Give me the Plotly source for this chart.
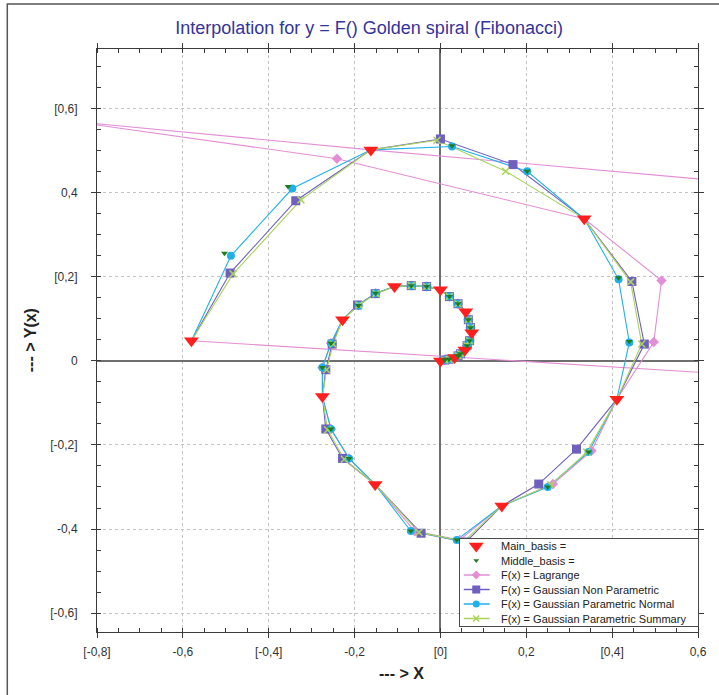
import plotly.graph_objects as go

# ---------------- data ----------------
main_x = [0.0, 0.033, 0.057, 0.073, 0.059, 0.0, -0.107, -0.228, -0.275, -0.152, 0.143, 0.411, 0.335, -0.162, -0.580]
main_y = [0.0, 0.008, 0.026, 0.067, 0.117, 0.169, 0.177, 0.098, -0.085, -0.294, -0.345, -0.091, 0.338, 0.502, 0.048]

middle_x = [0.010, 0.020, 0.041, 0.047, 0.062, 0.068, 0.070, 0.065, 0.041, 0.021, -0.032, -0.068, -0.151, -0.191,
            -0.255, -0.275, -0.255, -0.213, -0.069, 0.038, 0.250, 0.345, 0.440, 0.415, 0.202, 0.027, -0.355, -0.503]
middle_y = [0.002, 0.004, 0.012, 0.017, 0.036, 0.048, 0.079, 0.098, 0.136, 0.153, 0.177, 0.179, 0.161, 0.132,
            0.042, -0.016, -0.162, -0.232, -0.405, -0.426, -0.300, -0.217, 0.046, 0.198, 0.451, 0.512, 0.415, 0.256]

lagrange_x = [0.010, 0.020, 0.041, 0.047, 0.062, 0.068, 0.070, 0.065, 0.041, 0.021, -0.032, -0.068, -0.151, -0.191,
              -0.255, -0.275, -0.255, -0.213, -0.060, 0.045, 0.262, 0.352, 0.497, 0.515, -0.241, -0.869, 0.900, 0.900]
lagrange_y = [0.002, 0.004, 0.012, 0.017, 0.036, 0.048, 0.079, 0.098, 0.136, 0.153, 0.177, 0.179, 0.161, 0.132,
              0.042, -0.016, -0.162, -0.232, -0.405, -0.426, -0.293, -0.214, 0.045, 0.191, 0.481, 0.571, 0.406, -0.046]

gnp_x = [0.010, 0.020, 0.041, 0.047, 0.062, 0.068, 0.070, 0.065, 0.041, 0.021, -0.032, -0.068, -0.152, -0.193,
         -0.252, -0.267, -0.267, -0.228, -0.045, 0.059, 0.229, 0.317, 0.475, 0.446, 0.169, 0.000, -0.337, -0.490]
gnp_y = [0.002, 0.004, 0.012, 0.017, 0.036, 0.048, 0.079, 0.098, 0.136, 0.153, 0.177, 0.179, 0.160, 0.133,
         0.040, -0.021, -0.162, -0.232, -0.410, -0.431, -0.293, -0.210, 0.040, 0.189, 0.467, 0.528, 0.381, 0.209]

gpn_x = [0.010, 0.020, 0.041, 0.047, 0.062, 0.068, 0.070, 0.065, 0.041, 0.021, -0.032, -0.068, -0.151, -0.191,
         -0.255, -0.275, -0.255, -0.213, -0.069, 0.038, 0.250, 0.345, 0.440, 0.415, 0.202, 0.027, -0.345, -0.488]
gpn_y = [0.002, 0.004, 0.012, 0.017, 0.036, 0.048, 0.079, 0.098, 0.136, 0.153, 0.177, 0.179, 0.161, 0.132,
         0.042, -0.016, -0.162, -0.232, -0.405, -0.426, -0.300, -0.217, 0.044, 0.194, 0.451, 0.510, 0.410, 0.250]

gps_x = [0.010, 0.020, 0.041, 0.047, 0.062, 0.068, 0.070, 0.065, 0.041, 0.021, -0.032, -0.068, -0.150, -0.190,
         -0.250, -0.265, -0.263, -0.224, -0.050, 0.055, 0.257, 0.341, 0.469, 0.443, 0.152, -0.008, -0.325, -0.483]
gps_y = [0.002, 0.004, 0.012, 0.017, 0.036, 0.048, 0.079, 0.098, 0.136, 0.153, 0.177, 0.179, 0.160, 0.133,
         0.040, -0.021, -0.164, -0.234, -0.408, -0.429, -0.295, -0.217, 0.040, 0.188, 0.451, 0.525, 0.383, 0.207]

x_tickvals = [-0.8, -0.6, -0.4, -0.2, 0.0, 0.2, 0.4, 0.6]
x_ticktext = ["[-0,8]", "-0,6", "[-0,4]", "-0,2", "[0]", "0,2", "[0,4]", "0,6"]
y_tickvals = [-0.6, -0.4, -0.2, 0.0, 0.2, 0.4, 0.6]
y_ticktext = ["[-0,6]", "-0,4", "[-0,2]", "0", "[0,2]", "0,4", "[0,6]"]

title_text = "Interpolation for y = F() Golden spiral (Fibonacci)"
legend_names = ["Main_basis =", "Middle_basis =", "F(x) = Lagrange", "F(x) = Gaussian Non Parametric",
                "F(x) = Gaussian Parametric Normal", "F(x) = Gaussian Parametric Summary"]
FONT = "Liberation Sans, Arial, sans-serif"

# ---------------- styles ----------------
MAIN_STYLE = dict(color="#ff1f1f", symbol="triangle-down", size=13)
MID_STYLE = dict(color="#1e7d1e", symbol="triangle-down", size=6)
series = [
    (lagrange_x, lagrange_y, "#e38fd6", "diamond", 8),
    (gnp_x, gnp_y, "#6f5fbf", "square", 9),
    (gpn_x, gpn_y, "#21b1e8", "circle", 8),
    (gps_x, gps_y, "#a9d45c", "x-thin", 7),
]


def path(ix, iy):
    """Main point, two interpolated points, next main point, ..."""
    xs, ys = [], []
    for k in range(len(main_x)):
        xs.append(main_x[k]); ys.append(main_y[k])
        if k < len(main_x) - 1:
            xs += ix[2 * k:2 * k + 2]; ys += iy[2 * k:2 * k + 2]
    return xs, ys


def mk(col, sym, sz):
    m = dict(color=col, symbol=sym, size=sz)
    if sym == "x-thin":
        m["line"] = dict(color=col, width=1.5)
    return m


fig = go.Figure()

for ix, iy, col, sym, sz in series:
    px, py = path(ix, iy)
    fig.add_trace(go.Scatter(x=px, y=py, mode="lines", line=dict(color=col, width=1.1), hoverinfo="skip"))
for ix, iy, col, sym, sz in series:
    fig.add_trace(go.Scatter(x=ix, y=iy, mode="markers", marker=mk(col, sym, sz)))

fig.add_trace(go.Scatter(x=main_x, y=main_y, mode="markers", marker=MAIN_STYLE))
fig.add_trace(go.Scatter(x=middle_x, y=middle_y, mode="markers", marker=MID_STYLE))

# ---------------- custom legend (own small subplot, pixel units inside the box) ----------------
LEG_W, LEG_H = 239, 87
row_h = 14.5
rows = [7 + i * row_h for i in range(len(legend_names))]
sym_x, line_x0, line_x1, text_x = 16.5, 4, 30, 39
leg_marks = [MAIN_STYLE, dict(MID_STYLE, size=5)] + [mk(c, s, max(sz - 1, 6)) for _, _, c, s, sz in series]
for i, m in enumerate(leg_marks):
    r = rows[i]
    if i >= 2:
        fig.add_trace(go.Scatter(x=[line_x0, line_x1], y=[r, r], mode="lines", xaxis="x2", yaxis="y2",
                                 line=dict(color=m["color"], width=1.5), hoverinfo="skip"))
    fig.add_trace(go.Scatter(x=[sym_x], y=[r], mode="markers", xaxis="x2", yaxis="y2", marker=m,
                             hoverinfo="skip"))

annotations = [
    dict(text="<b>--- > X</b>", xref="paper", yref="paper", x=(403 - 97) / 603, y=(632 - 673) / 583,
         xanchor="center", yanchor="middle", showarrow=False,
         font=dict(family=FONT, size=16, color="#222222")),
    dict(text="<b>--- > Y(x)</b>", xref="paper", yref="paper", x=(30 - 97) / 603, y=(632 - 340) / 583,
         xanchor="center", yanchor="middle", showarrow=False, textangle=-90,
         font=dict(family=FONT, size=16, color="#222222")),
]
for i, name in enumerate(legend_names):
    annotations.append(dict(text=name, xref="x2", yref="y2", x=text_x, y=rows[i], xanchor="left",
                            yanchor="middle", showarrow=False,
                            font=dict(family=FONT, size=11, color="#222222")))

axis_common = dict(
    showline=True, linecolor="#3a3a3a", linewidth=1, mirror="ticks",
    ticks="outside", ticklen=5, tickcolor="#3a3a3a", tickwidth=1,
    showgrid=True, gridcolor="#c4c4c4", griddash="dot", gridwidth=1,
    zeroline=True, zerolinecolor="#6e6e6e", zerolinewidth=1.5,
    tickfont=dict(family=FONT, size=12, color="#333333"),
    minor=dict(ticks="inside", ticklen=4, dtick=0.05, tickcolor="#3a3a3a", showgrid=False),
)

fig.update_layout(
    xaxis=dict(range=[-0.8, 0.6], tickvals=x_tickvals, ticktext=x_ticktext, ticklabelstandoff=4,
               domain=[0, 1], anchor="y", **axis_common),
    yaxis=dict(range=[-0.645, 0.742], tickvals=y_tickvals, ticktext=y_ticktext, ticklabelstandoff=11,
               domain=[0, 1], anchor="x", **axis_common),
    xaxis2=dict(domain=[(461 - 97) / 603, (700 - 97) / 603], range=[0, LEG_W], anchor="y2",
                showline=True, mirror=True, linecolor="#4a4a4a", linewidth=1,
                showticklabels=False, ticks="", showgrid=False, zeroline=False, fixedrange=True),
    yaxis2=dict(domain=[(632 - 626) / 583, (632 - 539) / 583], range=[LEG_H, 0], anchor="x2",
                showline=True, mirror=True, linecolor="#4a4a4a", linewidth=1,
                showticklabels=False, ticks="", showgrid=False, zeroline=False, fixedrange=True),
)

fig.update_layout(
    width=719, height=695, autosize=False, showlegend=False,
    margin=dict(l=97, r=19, t=49, b=63),
    paper_bgcolor="white", plot_bgcolor="white",
    font=dict(family=FONT, color="#222222"),
    title=dict(text=title_text, x=(370 - 97) / 603, xref="paper", xanchor="center",
               y=1 - 28 / 695, yanchor="middle",
               font=dict(family=FONT, size=18, color="#34349a")),
    shapes=[dict(type="rect", xref="paper", yref="paper",
                 x0=(7 - 97) / 603, x1=(724 - 97) / 603,
                 y0=(632 - 702) / 583, y1=(632 - 4) / 583,
                 line=dict(color="#555555", width=1.5), fillcolor="rgba(0,0,0,0)", layer="below")],
    annotations=annotations,
)

fig.write_html("out.html")
